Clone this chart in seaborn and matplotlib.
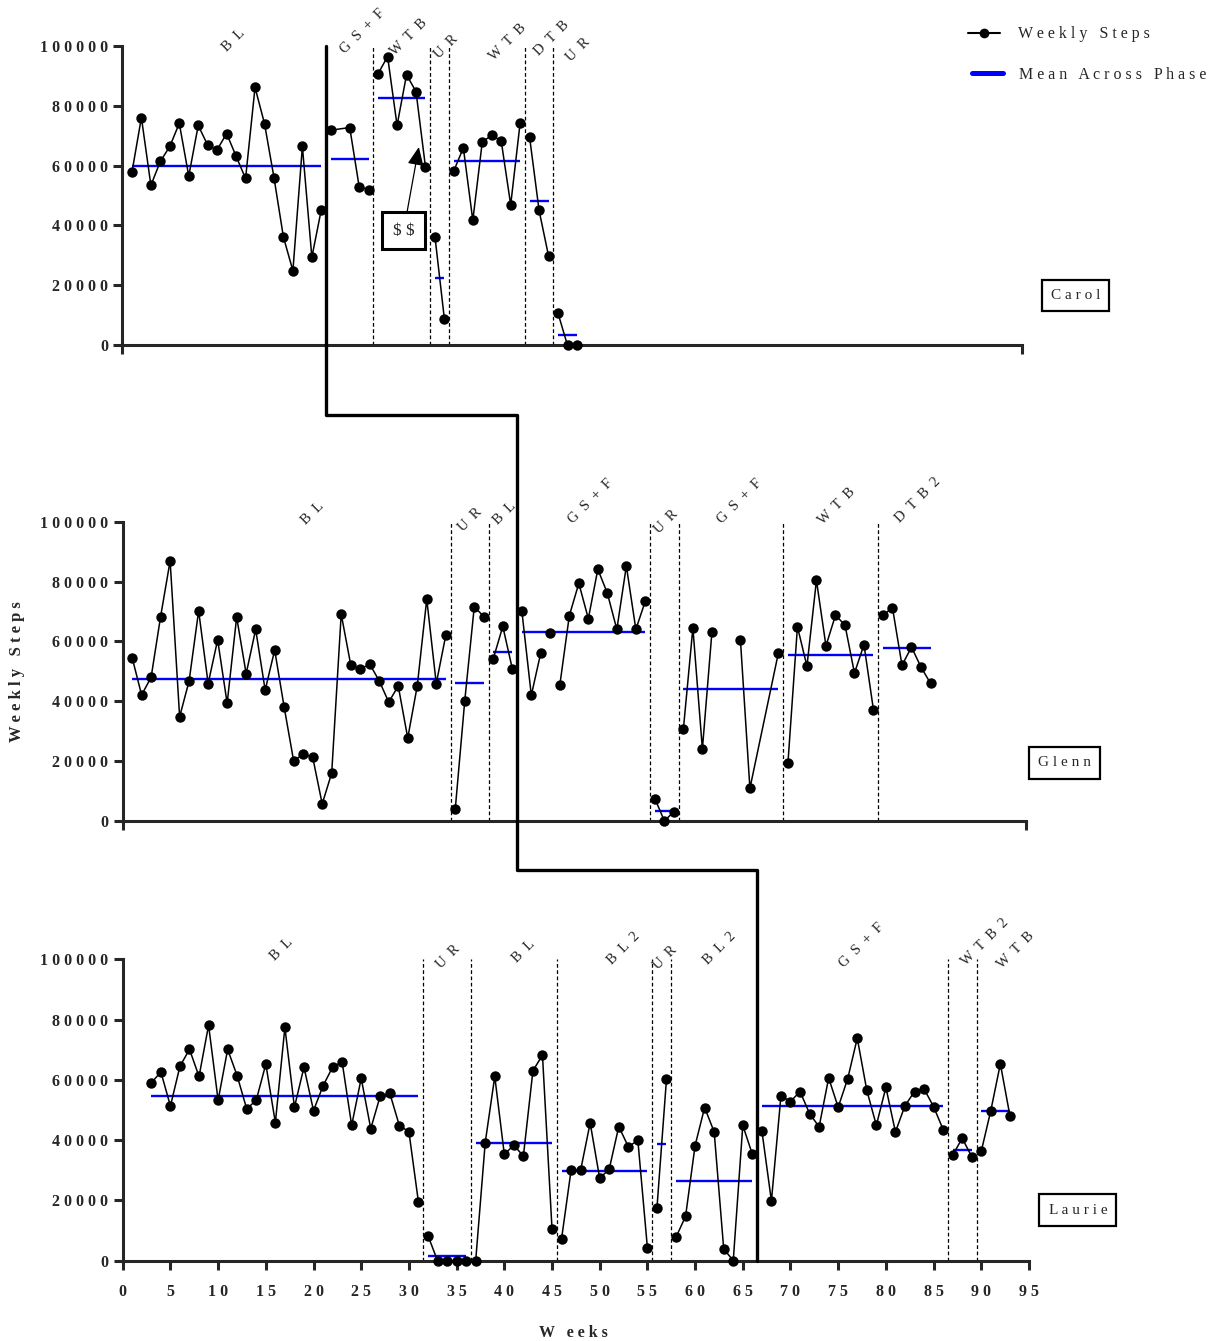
import numpy as np
import pandas as pd
import matplotlib.pyplot as plt
import seaborn as sns
from matplotlib.lines import Line2D

# ---- Carol ----
carol_weeks = list(range(1, 22)) + [22, 24, 25, 26] + list(range(27, 33)) + [33, 34] \
    + list(range(35, 43)) + [43, 44, 45] + [46, 47, 48]
carol_steps = [57800, 76000, 53400, 61400, 66400, 74100, 56500, 73400, 66800, 65300, 70700,
               63100, 55700, 86100, 74000, 56000, 36100, 24900, 66400, 29400, 45300,
               71800, 72700, 52900, 52000,
               90700, 96400, 73400, 90300, 84700, 59500,
               36300, 8700,
               58300, 65900, 41700, 67900, 70100, 68200, 46900, 74300,
               69400, 45000, 29800,
               10700, 0, 0]
carol_starts = [1, 22, 27, 33, 35, 43, 46]
carol_phases = ["BL", "GS+F", "WTB", "UR", "WTB", "DTB", "UR"]
carol_means = [59900, 62300, 82400, 22500, 61500, 48100, 3500]
carol_breaks = []
carol_switch = 1

# ---- Glenn ----
glenn_weeks = list(range(1, 35)) + list(range(35, 39)) + list(range(39, 42)) \
    + list(range(42, 56)) + [56, 57, 58] + [59, 60, 61, 62, 65, 66, 69] \
    + list(range(70, 80)) + list(range(80, 86))
glenn_steps = [54600, 42100, 48000, 68300, 86900, 34800, 46800, 70200, 45900, 60500,
               39300, 68100, 49200, 64000, 43700, 57100, 38000, 20000, 22400, 21300,
               5700, 16000, 69100, 52200, 50700, 52400, 46800, 39700, 45100, 27700,
               45100, 74100, 45900, 62000,
               4000, 40200, 71600, 68300,
               54200, 65000, 50900,
               70300, 42000, 56200, 62800, 45400, 68600, 79400, 67600, 84100, 76100,
               64000, 85200, 64000, 73500,
               7500, 0, 3100,
               30700, 64500, 24000, 63000, 60600, 10900, 56200,
               19300, 64900, 51700, 80400, 58500, 68700, 65500, 49400, 58900, 37100,
               68800, 71200, 52000, 58100, 51400, 46000]
glenn_starts = [1, 35, 39, 42, 56, 59, 70, 80]
glenn_phases = ["BL", "UR", "BL", "GS+F", "UR", "GS+F", "WTB", "DTB2"]
glenn_means = [47500, 46200, 56500, 63100, 3400, 44200, 55600, 57800]
glenn_breaks = [44, 45, 62]
glenn_switch = 3

# ---- Laurie ----
laurie_weeks = list(range(3, 32)) + list(range(32, 37)) + list(range(37, 46)) \
    + list(range(46, 56)) + [56, 57] + list(range(58, 67)) + list(range(67, 87)) \
    + [87, 88, 89] + [90, 91, 92, 93]
laurie_steps = [59000, 62600, 51300, 64500, 70100, 61100, 78100, 53200, 70100, 61300,
                50300, 53300, 65200, 45800, 77400, 50900, 64200, 49800, 58000, 64200,
                65900, 44900, 60500, 43800, 54700, 55500, 44800, 42800, 19400,
                8300, 0, 0, 0, 0,
                0, 39200, 61100, 35300, 38300, 34700, 63000, 68200, 10600,
                7200, 30000, 30000, 45700, 27300, 30400, 44500, 37800, 39900, 4300,
                17400, 60200,
                7800, 14700, 38200, 50800, 42700, 3900, 0, 44900, 35300,
                43100, 19800, 54700, 52800, 56100, 48800, 44400, 60600, 50900, 60400,
                73800, 56500, 44900, 57500, 42700, 51400, 56100, 57000, 51100, 43500,
                35000, 40600, 34500,
                36300, 49800, 65300, 48100]
laurie_starts = [3, 32, 37, 46, 56, 58, 67, 87, 90]
laurie_phases = ["BL", "UR", "BL", "BL2", "UR", "BL2", "GS+F", "WTB2", "WTB"]
laurie_means = [54700, 1700, 39200, 29900, 38800, 26500, 51400, 36700, 49700]
laurie_breaks = []
laurie_switch = 6

# label anchors (week, steps)
carol_label_xy = [(11.7, 101900), (25.4, 104700), (30.2, 103000), (34.2, 99700),
                  (40.7, 101300), (45.3, 102500), (48.1, 98600)]
glenn_label_xy = [(20.0, 102800), (36.6, 100600), (40.2, 102800), (49.2, 106700),
                  (57.2, 100000), (64.9, 106700), (75.1, 105000), (83.7, 107200)]
laurie_label_xy = [(16.7, 103100), (34.1, 100900), (42.0, 102500), (52.5, 103600),
                   (56.9, 100300), (62.6, 103600), (77.5, 104700), (90.4, 105800),
                   (93.6, 103100)]

sns.set_style("ticks")
plt.rcParams['font.family'] = ['Liberation Serif', 'DejaVu Serif']


def spaced(s, gap=' '):
    return gap.join(str(s))


def draw_panel(ax, weeks, steps, starts, names, means, breaks, switch, label_xy,
               name, name_xy, bottom):
    weeks = np.array(weeks)
    steps = np.array(steps, dtype=float)
    phase = np.searchsorted(starts, weeks, side='right') - 1
    new_seg = np.r_[True, (phase[1:] != phase[:-1]) | np.isin(weeks[:-1], breaks)]
    df = pd.DataFrame({'week': weeks, 'steps': steps, 'seg': np.cumsum(new_seg)})
    sns.lineplot(data=df, x='week', y='steps', units='seg', estimator=None,
                 color='black', lw=1.1, marker='o', markersize=7.5,
                 markeredgewidth=0, ax=ax, clip_on=False, legend=False, zorder=3)
    for k in range(len(starts)):
        w = weeks[phase == k]
        ax.hlines(means[k], w.min(), w.max(), color='#0000ff', lw=1.7, zorder=2)
        if k > 0 and k != switch:
            ax.vlines(starts[k] - 0.5, 0, 100000, color='black', lw=0.9,
                      linestyles=(0, (3, 2)), zorder=1)
    for txt, (x, y) in zip(names, label_xy):
        ax.text(x, y, spaced(txt, '  '), rotation=45, ha='center', va='center',
                rotation_mode='anchor', fontsize=10.5, clip_on=False)
    ax.text(name_xy[0], name_xy[1], spaced(name), transform=ax.transAxes,
            ha='center', va='center', fontsize=11,
            bbox=dict(boxstyle='square,pad=0.6', fc='white', ec='black', lw=1.6))

    ax.set_xlim(0, 95)
    ax.set_ylim(0, 100000)
    sns.despine(ax=ax)
    for sp in ['left', 'bottom']:
        ax.spines[sp].set_linewidth(2.2)
    yt = list(range(0, 100001, 20000))
    ax.set_yticks(yt)
    ax.set_yticklabels([spaced(v) for v in yt], fontweight='bold', fontsize=11.5)
    if bottom:
        xt = list(range(0, 96, 5))
        ax.set_xticks(xt)
        ax.set_xticklabels([spaced(v) for v in xt], fontweight='bold', fontsize=11.5)
    else:
        ax.set_xticks([0, 95])
        ax.set_xticklabels(['', ''])
    ax.tick_params(width=2.2, length=6.5, direction='out')
    ax.tick_params(axis='x', pad=10)
    ax.tick_params(axis='y', pad=4)
    ax.set_xlabel('')
    ax.set_ylabel('')


fig = plt.figure(figsize=(12.26, 13.41), dpi=100)
ax1 = fig.add_axes([0.0999, 0.7425, 0.7337, 0.2234])
ax2 = fig.add_axes([0.1000, 0.3878, 0.7365, 0.2232])
ax3 = fig.add_axes([0.1001, 0.0599, 0.7392, 0.2248])

draw_panel(ax1, carol_weeks, carol_steps, carol_starts, carol_phases, carol_means,
           carol_breaks, carol_switch, carol_label_xy, "Carol", (1.0595, 0.166), False)
draw_panel(ax2, glenn_weeks, glenn_steps, glenn_starts, glenn_phases, glenn_means,
           glenn_breaks, glenn_switch, glenn_label_xy, "Glenn", (1.043, 0.194), False)
draw_panel(ax3, laurie_weeks, laurie_steps, laurie_starts, laurie_phases, laurie_means,
           laurie_breaks, laurie_switch, laurie_label_xy, "Laurie", (1.054, 0.168), True)

ax2.set_ylabel('W e e k l y   S t e p s', fontweight='bold', fontsize=12)
ax2.yaxis.set_label_coords(-0.108, 0.5)
ax3.set_xlabel('W   e e k s', fontweight='bold', fontsize=11.5)
ax3.xaxis.set_label_coords(0.497, -0.213)

# $$ note
ax1.annotate(r'\$ \$', xy=(31.3, 66200), xytext=(29.7, 38300), ha='center', va='center',
             fontsize=12.5,
             bbox=dict(boxstyle='square,pad=0.6', fc='white', ec='black', lw=2.2),
             arrowprops=dict(arrowstyle='-|>,head_length=0.9,head_width=0.4',
                             color='black', lw=0.9, shrinkA=0, shrinkB=0))

# multiple-baseline staircase
inv = fig.transFigure.inverted()


def fig_xy(ax, x, y):
    return inv.transform(ax.transData.transform((x, y)))


s1 = carol_starts[carol_switch] - 0.5
s2 = glenn_starts[glenn_switch] - 0.5
s3 = laurie_starts[laurie_switch] - 0.5
p1 = fig_xy(ax1, s1, 100000)
p2 = fig_xy(ax1, s1, -23300)
p3 = fig_xy(ax2, s2, -16400)
p4 = fig_xy(ax3, s3, 0)
xs = [p1[0], p2[0], p3[0], p3[0], p4[0], p4[0]]
ys = [p1[1], p2[1], p2[1], p3[1], p3[1], p4[1]]
fig.add_artist(Line2D(xs, ys, transform=fig.transFigure, color='black', lw=2.4))

# legend
W, H = 1226, 1341
fig.add_artist(Line2D([968 / W, 1000 / W], [1 - 33 / H] * 2, transform=fig.transFigure,
                      color='black', lw=1.5))
fig.add_artist(Line2D([984 / W], [1 - 33 / H], transform=fig.transFigure, color='black',
                      marker='o', markersize=7, markeredgewidth=0))
fig.text(1018 / W, 1 - 34 / H, 'W e e k l y   S t e p s', va='center', fontsize=11.5)
fig.add_artist(Line2D([972 / W, 1003 / W], [1 - 73 / H] * 2, transform=fig.transFigure,
                      color='#0000ff', lw=3.6))
fig.text(1019 / W, 1 - 75 / H, 'M e a n   A c r o s s   P h a s e', va='center',
         fontsize=11.5)

fig.savefig('out.png', dpi=100)
